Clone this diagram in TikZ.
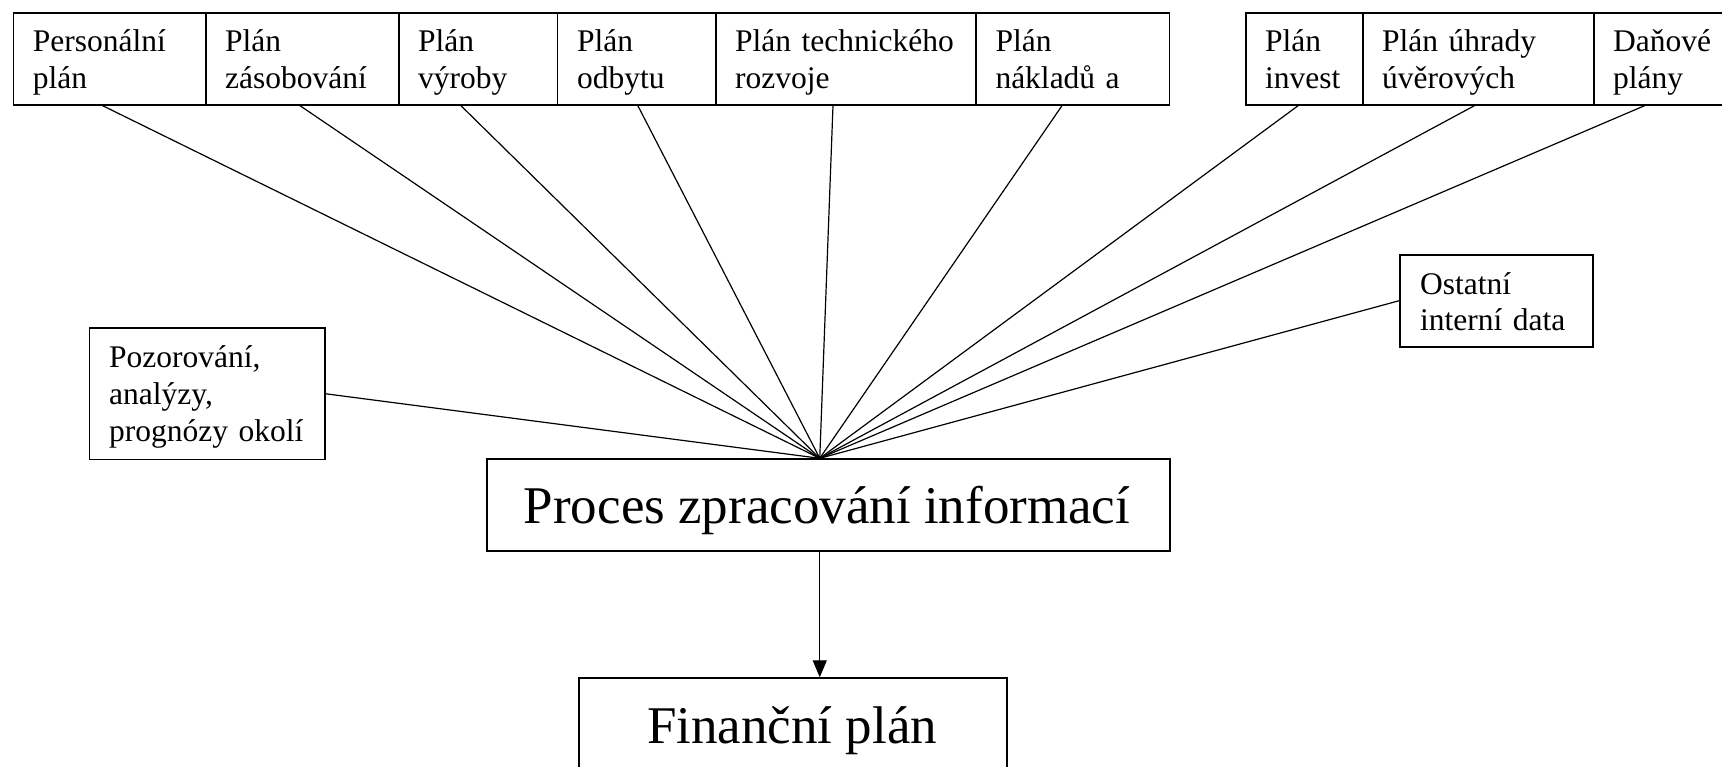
\documentclass[tikz,border=0pt]{standalone}
\usepackage{fontspec}
\setmainfont{Liberation Serif}
\usetikzlibrary{arrows.meta}

\begin{document}
\begin{tikzpicture}[x=1pt, y=-1pt,
    box/.style = {draw, line width=1.5pt, anchor=north west, inner sep=0pt},
    plan/.style = {box, minimum height=91.7pt},
    txt/.style = {anchor=base west, align=left, inner sep=0pt, text width=260pt,
                  font=\fontsize{31.5}{37}\selectfont},
    bigtxt/.style = {anchor=base, inner sep=0pt, font=\fontsize{53}{60}\selectfont},
    link/.style = {line width=1.2pt}]
    \useasboundingbox (0,0) rectangle (1722,766);

    % top row of plans
    \node[plan, minimum width=192.3pt] (p1) at (12.7,12.3) {};
    \node[plan, minimum width=193pt] (p2) at (205,12.3) {};
    \node[plan, minimum width=158.8pt] (p3) at (398,12.3) {};
    \node[plan, minimum width=158.2pt] (p4) at (556.8,12.3) {};
    \node[plan, minimum width=260.3pt] (p5) at (715,12.3) {};
    \node[plan, minimum width=193.3pt] (p6) at (975.3,12.3) {};
    \node[plan, minimum width=117pt] (p7) at (1245,12.3) {};
    \node[plan, minimum width=231pt] (p8) at (1362,12.3) {};
    \node[plan, minimum width=170pt] (p9) at (1593,12.3) {};

    \node[txt] (t1) at (32.7,51.5) {Personální\\plán};
    \node[txt] (t2) at (225,51.5) {Plán\\zásobování};
    \node[txt] (t3) at (418,51.5) {Plán\\výroby};
    \node[txt] (t4) at (576.8,51.5) {Plán\\odbytu};
    \node[txt] (t5) at (735,51.5) {Plán technického\\rozvoje};
    \node[txt] (t6) at (995.3,51.5) {Plán\\nákladů a};
    \node[txt] (t7) at (1265,51.5) {Plán\\invest};
    \node[txt] (t8) at (1382,51.5) {Plán úhrady\\úvěrových};
    \node[txt] (t9) at (1613,51.5) {Daňové\\plány};

    % side inputs
    \node[box, minimum width=235.3pt, minimum height=131.4pt] (poz) at (88.7,327.3) {};
    \node[txt] (tpoz) at (109,367.7) {Pozorování,\\analýzy,\\prognózy okolí};
    \node[box, minimum width=193pt, minimum height=92pt] (ost) at (1399,254) {};
    \node[txt, font=\fontsize{31.5}{36}\selectfont] (tost) at (1420,294) {Ostatní\\interní data};

    % processing and result
    \node[box, minimum width=683pt, minimum height=91.7pt] (proc) at (486,458.3) {};
    \node[bigtxt] (tproc) at (827,523.3) {Proces zpracování informací};
    \node[box, minimum width=428pt, minimum height=92pt] (fin) at (578,677.3) {};
    \node[bigtxt] (tfin) at (792,743) {Finanční plán};

    \coordinate (fan) at ([xshift=-8.5pt]proc.north);
    \draw[link] ([xshift=-7.3pt]p1.south) -- (fan);
    \draw[link] ([xshift=-2.5pt]p2.south) -- (fan);
    \draw[link] ([xshift=-17.4pt]p3.south) -- (fan);
    \draw[link] ([xshift=1.1pt]p4.south) -- (fan);
    \draw[link] ([xshift=-12.9pt]p5.south) -- (fan);
    \draw[link] ([xshift=-10.6pt]p6.south) -- (fan);
    \draw[link] ([xshift=-5.9pt]p7.south) -- (fan);
    \draw[link] ([xshift=-3.5pt]p8.south) -- (fan);
    \draw[link] ([xshift=52pt]p9.south west) -- (fan);
    \draw[link] (poz.east) -- (fan);
    \draw[link] (ost.west) -- (fan);
    \draw[link, -{Triangle[length=17pt, width=14pt]}] (proc.south -| fan) -- (fin.north -| fan);
\end{tikzpicture}
\end{document}
